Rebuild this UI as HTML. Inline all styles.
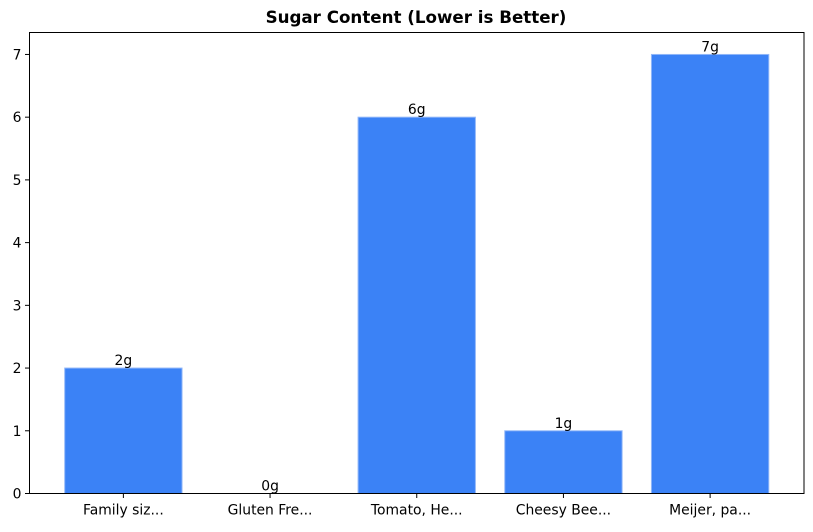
<!DOCTYPE html>
<html><head><meta charset="utf-8"><style>
body{margin:0;background:#fff;font-family:"DejaVu Sans","Liberation Sans",sans-serif;}
svg text{font-family:"DejaVu Sans","Liberation Sans",sans-serif;}
</style></head><body>
<svg id="chart" width="813" height="528" xmlns="http://www.w3.org/2000/svg">
<text x="416" y="23" text-anchor="middle" font-size="16.7" font-weight="bold">Sugar Content (Lower is Better)</text>
<g id="bars"></g><g id="xt"></g><g id="yt"></g>
<rect x="29.5" y="32.5" width="774.5" height="461" fill="none" stroke="#000" stroke-width="1"/>
</svg>
<script>
const categories=["Family siz...","Gluten Fre...","Tomato, He...","Cheesy Bee...","Meijer, pa..."];
const values=[2,0,6,1,7];
const valueLabels=["2g","0g","6g","1g","7g"];
const yTicks=[0,1,2,3,4,5,6,7];
const L=29.5,R=804,T=32.5,B=493.5;
const xmin=-0.64,xmax=categories.length-1+0.64,ymax=7.35;
const xs=v=>L+(v-xmin)/(xmax-xmin)*(R-L);
const ys=v=>B-v/ymax*(B-T);
const NS="http://www.w3.org/2000/svg";
function mk(t,a,p){const e=document.createElementNS(NS,t);for(const k in a)e.setAttribute(k,a[k]);p.appendChild(e);return e;}
const gb=document.getElementById('bars'),gx=document.getElementById('xt'),gy=document.getElementById('yt');
values.forEach((v,i)=>{
  const x0=xs(i-0.4),x1=xs(i+0.4);
  const r=mk('rect',{x:x0,y:ys(v),width:x1-x0,height:B-ys(v),fill:'#3b82f6',stroke:'#93b8f8','stroke-width':1},gb);
  
  
  const t=mk('text',{x:xs(i),y:ys(v)-3,'text-anchor':'middle','font-size':13.9},gb);
  t.textContent=valueLabels[i];
  
  
  mk('line',{x1:xs(i),x2:xs(i),y1:B,y2:B+4.5,stroke:'#000'},gx);
  const xl=mk('text',{x:xs(i),y:B+21,'text-anchor':'middle','font-size':13.9},gx);
  xl.textContent=categories[i];
  
  
});
yTicks.forEach(v=>{
  mk('line',{x1:L-4.5,x2:L,y1:ys(v),y2:ys(v),stroke:'#000'},gy);
  const yl=mk('text',{x:L-8,y:ys(v)+5,'text-anchor':'end','font-size':13.9},gy);
  yl.textContent=v;
  
  
});
</script>
</body></html>
